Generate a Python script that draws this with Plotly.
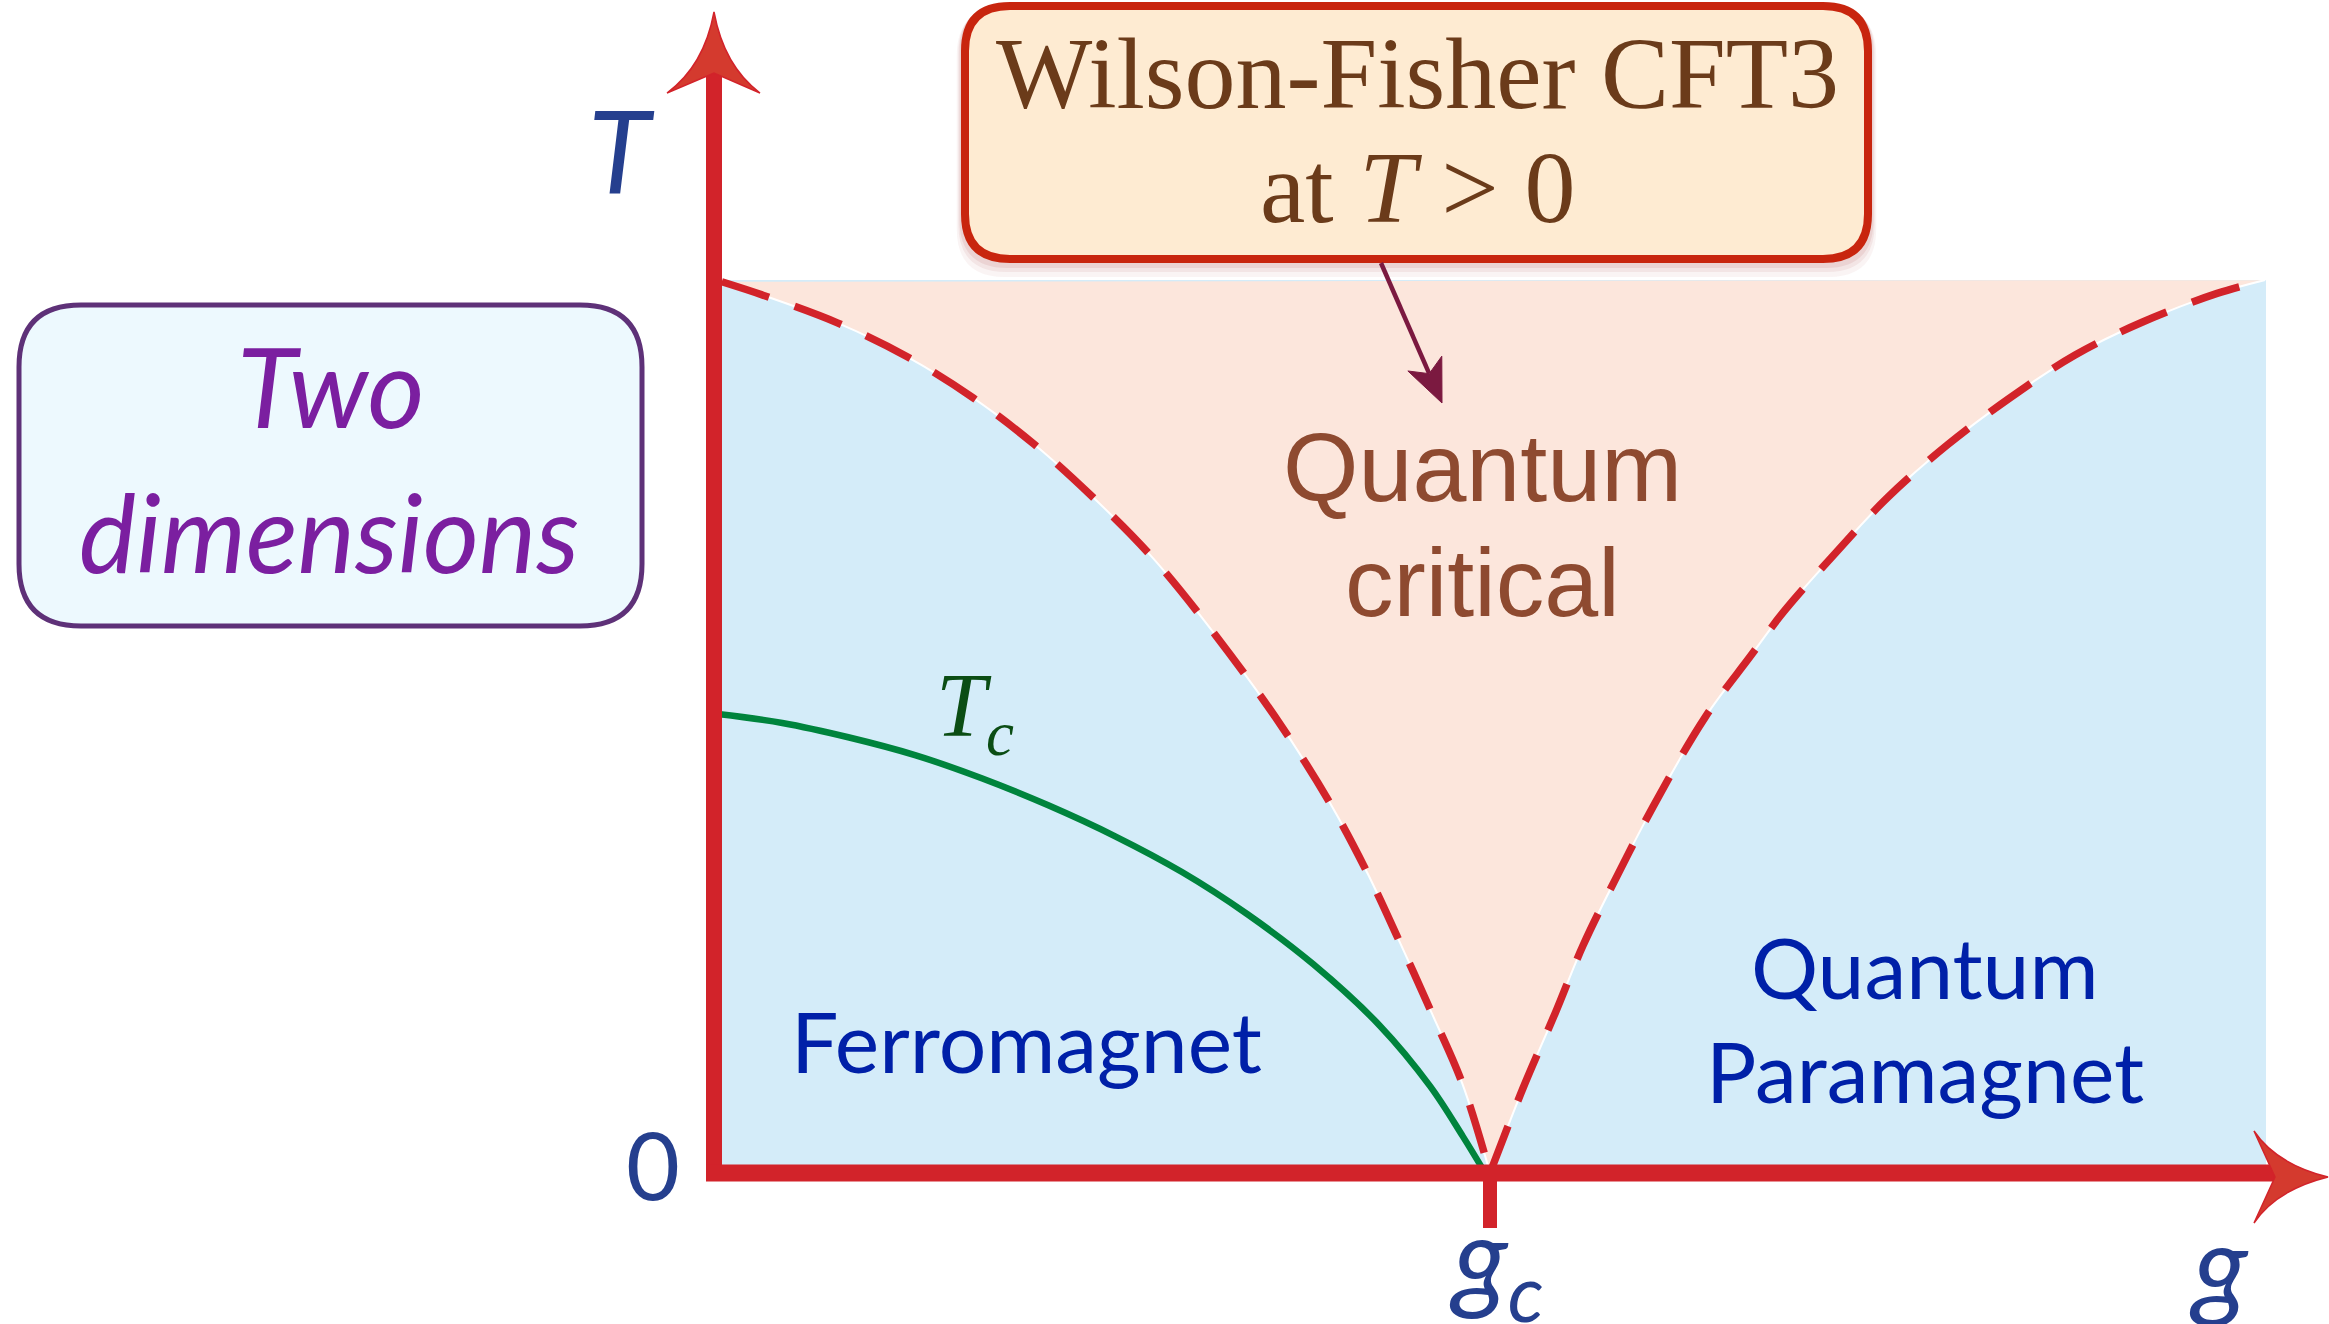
import plotly.graph_objects as go
import numpy as np

# ---------------- data (g in units of g_c, T in units of plotted top) ----------------
left_g = [0.010, 0.063, 0.159, 0.249, 0.334, 0.414, 0.488, 0.559, 0.626, 0.723,
          0.794, 0.842, 0.884, 0.925, 0.964, 1.0]
left_T = [0.998, 0.983, 0.952, 0.914, 0.868, 0.815, 0.757, 0.695, 0.625, 0.511,
          0.414, 0.336, 0.258, 0.179, 0.101, 0.0]
right_g = [1.0, 1.043, 1.084, 1.120, 1.164, 1.210, 1.277, 1.335, 1.378, 1.445,
           1.513, 1.589, 1.670, 1.754, 1.841, 1.937, 1.999]
right_T = [0.0, 0.096, 0.179, 0.255, 0.333, 0.410, 0.510, 0.578, 0.628, 0.694,
           0.757, 0.815, 0.868, 0.916, 0.953, 0.985, 1.0]
tc_g = [0.005, 0.088, 0.173, 0.259, 0.345, 0.430, 0.517, 0.603, 0.687, 0.772,
        0.858, 0.923, 0.965, 0.993]
tc_T = [0.514, 0.504, 0.488, 0.468, 0.442, 0.412, 0.377, 0.337, 0.290, 0.234,
        0.165, 0.097, 0.041, 0.001]

g_c = 1.0
g_max = 2.0
T_max = 1.0

region_labels = ["Ferromagnet", "Quantum<br>critical", "Quantum<br>Paramagnet"]
box_title = ["Wilson-Fisher CFT3", "at <i>T</i> > 0"]
dim_label = ["Two", "dimensions"]

# ---------------- layout helpers (pixel -> data) ----------------
W, H = 2329, 1324
X0, SX = 714.0, 776.0
Y0, SY = 1173.0, 893.0


def X(px):
    return (px - X0) / SX


def Y(py):
    return (Y0 - py) / SY


def path_px(points, close=True):
    s = ""
    for cmd, pts in points:
        s += cmd + " " + " ".join(f"{X(a):.5f},{Y(b):.5f}" for a, b in pts) + " "
    if close:
        s += "Z"
    return s


def rrect(x0, y0, x1, y1, r):
    return path_px([
        ("M", [(x0 + r, y0)]), ("L", [(x1 - r, y0)]), ("Q", [(x1, y0), (x1, y0 + r)]),
        ("L", [(x1, y1 - r)]), ("Q", [(x1, y1), (x1 - r, y1)]), ("L", [(x0 + r, y1)]),
        ("Q", [(x0, y1), (x0, y1 - r)]), ("L", [(x0, y0 + r)]), ("Q", [(x0, y0), (x0 + r, y0)]),
    ])


RED = "#d2232a"
BLUE_FILL = "#d4ecf9"
PINK_FILL = "#fce6dc"
GREEN = "#00843d"
AX_LABEL = "#253f8e"
REGION_BLUE = "#0020a8"
BROWN = "#8e4a30"
SM = 1.0

fig = go.Figure()

# pink quantum-critical fan (g_c vertex repeated so the outline keeps its sharp tip,
# top corners repeated so the top edge stays straight)
fan_g = [left_g[0]] + left_g + [g_c] + right_g + [right_g[-1]]
fan_T = [left_T[0]] + left_T + [0.0] + right_T + [right_T[-1]]
fig.add_trace(go.Scatter(x=fan_g, y=fan_T, mode="lines", fill="toself", fillcolor=PINK_FILL,
                         line=dict(width=0, color=PINK_FILL, shape="spline", smoothing=SM),
                         hoverinfo="skip", showlegend=False))
# thin white crossover edges + dashed crossover lines
for gx, ty in ((left_g, left_T), (right_g, right_T)):
    fig.add_trace(go.Scatter(x=gx, y=ty, mode="lines",
                             line=dict(color="white", width=2, shape="spline", smoothing=SM),
                             hoverinfo="skip", showlegend=False))
    fig.add_trace(go.Scatter(x=gx, y=ty, mode="lines",
                             line=dict(color=RED, width=7.5, dash="50px,27px", shape="spline",
                                       smoothing=SM),
                             hoverinfo="skip", showlegend=False))
# T_c line
fig.add_trace(go.Scatter(x=tc_g, y=tc_T, mode="lines",
                         line=dict(color=GREEN, width=6.5, shape="spline", smoothing=SM),
                         hoverinfo="skip", showlegend=False))

shapes = []
# blue background region
shapes.append(dict(type="rect", xref="x", yref="y", x0=0, x1=g_max, y0=0, y1=T_max,
                   fillcolor=BLUE_FILL, line=dict(width=0), layer="below"))

# axes
shapes.append(dict(type="line", xref="x", yref="y", x0=0, x1=0, y0=Y(1181), y1=Y(74),
                   line=dict(color=RED, width=16), layer="above"))
shapes.append(dict(type="line", xref="x", yref="y", x0=X(706), x1=X(2276), y0=0, y1=0,
                   line=dict(color=RED, width=17), layer="above"))
# g_c tick
shapes.append(dict(type="line", xref="x", yref="y", x0=g_c, x1=g_c, y0=0, y1=Y(1228),
                   line=dict(color=RED, width=14), layer="above"))
# arrowheads
up = path_px([("M", [(714, 12)]), ("Q", [(704, 66), (667, 93)]), ("L", [(714, 73)]),
              ("L", [(760, 93)]), ("Q", [(724, 66), (714, 12)])])
right = path_px([("M", [(2328, 1177)]), ("Q", [(2276, 1164), (2254, 1131)]), ("L", [(2275, 1177)]),
                 ("L", [(2254, 1223)]), ("Q", [(2276, 1190), (2328, 1177)])])
for p in (up, right):
    shapes.append(dict(type="path", xref="x", yref="y", path=p, fillcolor="#d43a2e",
                       line=dict(color=RED, width=1.5), layer="above"))

# Wilson-Fisher box with soft shadow
for off, op in ((14, 0.06), (9, 0.08), (5, 0.10)):
    shapes.append(dict(type="path", xref="x", yref="y",
                       path=rrect(961 - off * 0.3, 2 + off * 0.4, 1872 + off * 0.3, 263 + off, 48),
                       fillcolor=f"rgba(170,60,60,{op})", line=dict(width=0), layer="above"))
shapes.append(dict(type="path", xref="x", yref="y", path=rrect(965, 6, 1868, 259, 45),
                   fillcolor="#feebd2", line=dict(color="#c8250e", width=8), layer="above"))

# Two dimensions box
shapes.append(dict(type="path", xref="x", yref="y", path=rrect(19, 305, 642, 626, 62),
                   fillcolor="#edf9fe", line=dict(color="#5e3178", width=5), layer="above"))

# pointer arrow from box into the fan
tail = np.array([1381.0, 263.0])
tip = np.array([1442.0, 403.0])
d = (tip - tail) / np.linalg.norm(tip - tail)
pp = np.array([-d[1], d[0]])
base = tip - 43 * d
notch = tip - 32 * d
b1 = base + 18.5 * pp
b2 = base - 18.5 * pp
shapes.append(dict(type="line", xref="x", yref="y", x0=X(tail[0]), y0=Y(tail[1]),
                   x1=X(notch[0]), y1=Y(notch[1]), line=dict(color="#7b1940", width=4.5),
                   layer="above"))
shapes.append(dict(type="path", xref="x", yref="y",
                   path=path_px([("M", [tuple(tip)]), ("L", [tuple(b1)]), ("L", [tuple(notch)]),
                                 ("L", [tuple(b2)])]),
                   fillcolor="#7b1940", line=dict(color="#7b1940", width=1), layer="above"))

ann = []


def text(px, py, s, size, color, family, xanchor="center"):
    ann.append(dict(x=X(px), y=Y(py), xref="x", yref="y", text=s, showarrow=False,
                    font=dict(size=size, color=color, family=family),
                    xanchor=xanchor, yanchor="middle"))


SERIF = "Liberation Serif"
HUMAN = "Lato"
# box title
text(1417, 73, box_title[0], 102, "#6b3b1a", SERIF)
text(1417, 187, box_title[1], 102, "#6b3b1a", SERIF)
# dimension label
text(331, 385, f"<i>{dim_label[0]}</i>", 110, "#7b1fa0", HUMAN)
text(329, 531, f"<i>{dim_label[1]}</i>", 108, "#7b1fa0", HUMAN)
# regions
qc = region_labels[1].split("<br>")
text(1482, 467, qc[0], 97, BROWN, "Liberation Sans")
text(1482, 582, qc[1], 97, BROWN, "Liberation Sans")
text(1026, 1040, region_labels[0], 84, REGION_BLUE, HUMAN)
qp = region_labels[2].split("<br>")
text(1925, 966, qp[0], 84, REGION_BLUE, HUMAN)
text(1925, 1070, qp[1], 84, REGION_BLUE, HUMAN)
# axis labels
text(621, 148, "<i>T</i>", 114, AX_LABEL, HUMAN)
text(653, 1164, "0", 93, AX_LABEL, HUMAN)
text(1496, 1262, "<i>g<sub>c</sub></i>", 113, AX_LABEL, HUMAN)
text(2219, 1262, "<i>g</i>", 113, AX_LABEL, HUMAN)
# T_c label
text(975, 712, "<i>T<sub>c</sub></i>", 90, "#0b4d14", SERIF)

fig.update_layout(
    width=W, height=H, margin=dict(l=0, r=0, t=0, b=0),
    paper_bgcolor="white", plot_bgcolor="white",
    xaxis=dict(range=[X(0), X(W)], visible=False, fixedrange=True),
    yaxis=dict(range=[Y(H), Y(0)], visible=False, fixedrange=True),
    shapes=shapes, annotations=ann, showlegend=False,
)

fig.write_html("out.html", config={"displayModeBar": False},
               post_script="document.body.style.margin='0px';document.body.style.overflow='hidden';")
